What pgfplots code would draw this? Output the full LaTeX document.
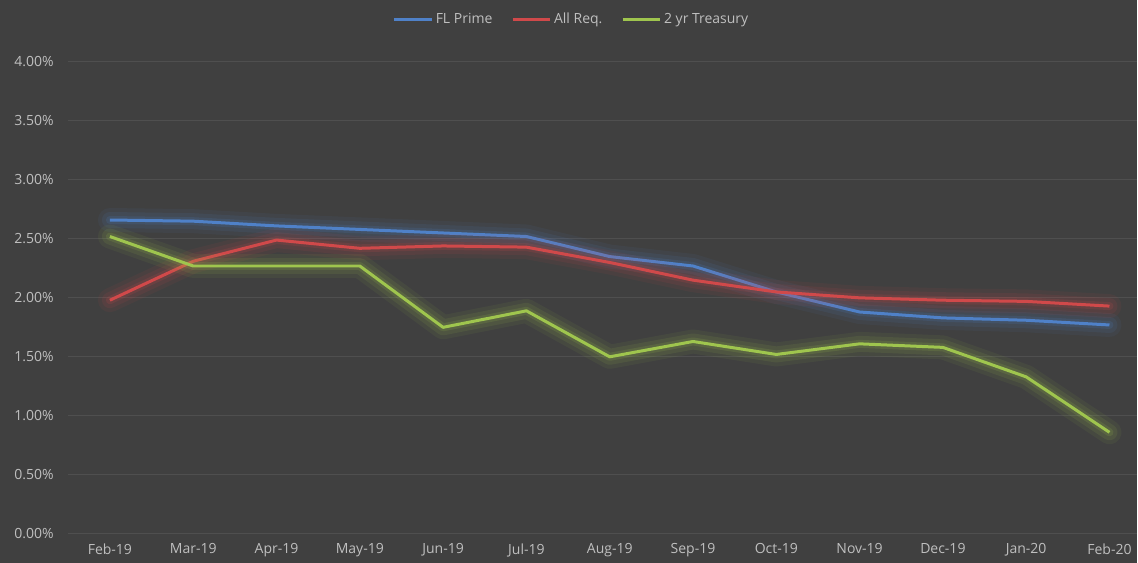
\documentclass[border=0pt]{standalone}
\usepackage{pgfplots}
\pgfplotsset{compat=1.18}
\usepackage{fontspec}
\setmainfont{Open Sans}
\definecolor{bg}{HTML}{404040}
\definecolor{gridc}{HTML}{4F4F4F}
\definecolor{txt}{HTML}{BFBFBF}
\definecolor{cblue}{HTML}{4F81C8}
\definecolor{cred}{HTML}{D0494A}
\definecolor{cgreen}{HTML}{9FC54E}
\begin{document}
\begin{tikzpicture}[x=0.75pt,y=0.75pt]
\fill[bg] (0,0) rectangle (1138,563);
\begin{axis}[
  at={(68.3*0.75pt,29*0.75pt)}, anchor=south west,
  scale only axis, width=802.3pt, height=354pt,
  xmin=-0.5, xmax=12.336, ymin=0, ymax=4,
  axis line style={draw=none},
  major tick length=0pt,
  ytick={0,0.5,...,4},
  ymajorgrids, grid style={gridc, line width=0.8pt},
  xtick={0,...,12},
  xticklabels={Feb-19,Mar-19,Apr-19,May-19,Jun-19,Jul-19,Aug-19,Sep-19,Oct-19,Nov-19,Dec-19,Jan-20,Feb-20},
  /pgf/number format/assume math mode=true,
  yticklabel={\pgfmathprintnumber[fixed,fixed zerofill,precision=2]{\tick}\%},
  tick label style={font=\fontsize{10.5}{12}\selectfont, text=txt},
  yticklabel style={xshift=-7.5pt},
  xticklabel style={yshift=-4pt},
  clip=false,
  legend style={at={(0.471,1)}, anchor=south, yshift=23pt, draw=none, fill=none,
    text=txt, font=\fontsize{10.5}{12}\selectfont, legend columns=-1,
    /tikz/every even column/.append style={column sep=12pt}},
  legend image code/.code={\draw[#1, line width=2.25pt] (0pt,0pt) -- (28pt,0pt);},
  glowA/.style={line width=18pt, opacity=0.07, forget plot, line join=round, line cap=round},
  glowB/.style={line width=12pt, opacity=0.10, forget plot, line join=round, line cap=round},
  glowC/.style={line width=6pt, opacity=0.15, forget plot, line join=round, line cap=round},
]
\pgfplotstableread{
x prime allreq treas
0 2.66 1.98 2.52
1 2.65 2.31 2.27
2 2.61 2.49 2.27
3 2.58 2.42 2.27
4 2.55 2.44 1.75
5 2.52 2.43 1.89
6 2.35 2.30 1.50
7 2.27 2.15 1.63
8 2.05 2.05 1.52
9 1.88 2.00 1.61
10 1.83 1.98 1.58
11 1.81 1.97 1.33
12 1.77 1.93 0.86
}\datatable
% FL Prime
\addplot[cblue, glowA] table[x=x,y=prime] {\datatable};
\addplot[cblue, glowB] table[x=x,y=prime] {\datatable};
\addplot[cblue, glowC] table[x=x,y=prime] {\datatable};
\addplot[cblue, line width=2.25pt, line join=round] table[x=x,y=prime] {\datatable};
\addlegendentry{FL Prime}
% All Req.
\addplot[cred, glowA] table[x=x,y=allreq] {\datatable};
\addplot[cred, glowB] table[x=x,y=allreq] {\datatable};
\addplot[cred, glowC] table[x=x,y=allreq] {\datatable};
\addplot[cred, line width=2.25pt, line join=round] table[x=x,y=allreq] {\datatable};
\addlegendentry{All Req.}
% 2 yr Treasury
\addplot[cgreen, glowA] table[x=x,y=treas] {\datatable};
\addplot[cgreen, glowB] table[x=x,y=treas] {\datatable};
\addplot[cgreen, glowC] table[x=x,y=treas] {\datatable};
\addplot[cgreen, line width=2.25pt, line join=round] table[x=x,y=treas] {\datatable};
\addlegendentry{2 yr Treasury}
\end{axis}
\end{tikzpicture}
\end{document}
